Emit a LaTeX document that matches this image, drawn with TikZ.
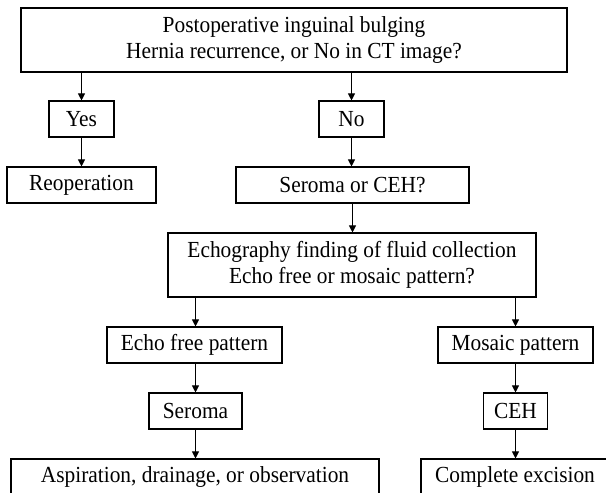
\documentclass[tikz,border=0pt]{standalone}
\usepackage{fontspec}
\setmainfont{Liberation Serif}[FakeStretch=0.93]
\usetikzlibrary{arrows.meta, positioning}

\begin{document}
\begin{tikzpicture}[x=1pt, y=-1pt,
      box/.style = {draw, line width=1.1pt, inner sep=0pt, align=center,
                    font=\fontsize{23}{25.5}\selectfont},
  small box/.style = {box, minimum height=36pt},
  large box/.style = {box, minimum height=64pt},
      >={Triangle[width=7pt,length=7pt]}]
  \useasboundingbox (0,0) rectangle (606,493);
  \clip (0,0) rectangle (606,493);
  % first question
  \node[large box, minimum width=546pt] (top) at (294,40)
    {Postoperative inguinal bulging\\Hernia recurrence, or No in CT image?};
  \node[small box, minimum width=65pt] (yes) at (81.5,119) {Yes};
  \node[small box, minimum width=65pt] (no) at (351.5,119) {No};
  \node[small box, minimum width=149pt] (reop) at (81.5,185) {Reoperation};
  \node[small box, minimum width=233pt] (seroceh) at (352.5,185) {Seroma or CEH?};
  % echography
  \node[large box, minimum width=368pt] (echo) at (352,265)
    {Echography finding of fluid collection\\Echo free or mosaic pattern?};
  \node[small box, minimum width=175pt] (free) at (194.5,345) {Echo free pattern};
  \node[small box, minimum width=155pt] (mosaic) at (515.5,345) {Mosaic pattern};
  \node[small box, minimum width=93pt] (seroma) at (195.5,411) {Seroma};
  \node[small box, minimum width=64pt] (ceh) at (515.5,411) {CEH};
  \node[small box, minimum width=368pt] (aspir) at (195,477)
    {Aspiration, drainage, or observation};
  \node[small box, minimum width=188pt] (excis) at (515,477) {Complete excision};
  \path[->, line width=1pt]
    (top.south -| yes) edge (yes.north)
    (top.south -| no) edge (no.north)
    (yes) edge (reop)
    (no.south) edge (no.south |- seroceh.north)
    (seroceh.south) edge (seroceh.south |- echo.north)
    (echo.south -| seroma) edge (free.north -| seroma)
    (echo.south -| mosaic) edge (mosaic.north)
    (free.south -| seroma) edge (seroma.north)
    (mosaic.south) edge (mosaic.south |- ceh.north)
    (seroma) edge (seroma.south |- aspir.north)
    (ceh) edge (ceh.south |- excis.north);
\end{tikzpicture}
\end{document}
